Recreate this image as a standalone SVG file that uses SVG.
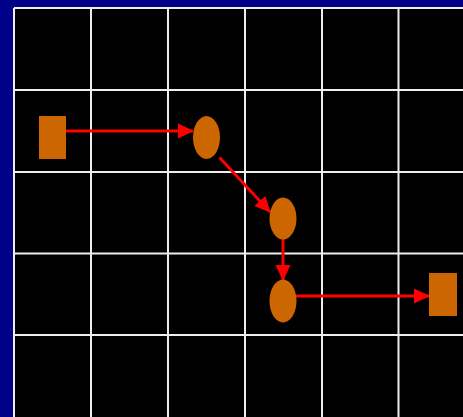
<svg xmlns="http://www.w3.org/2000/svg" width="463" height="417" viewBox="0 0 463 417">
<style>
.grid{stroke:#EEEEEE;stroke-width:2;fill:none}
.node{fill:#CC6600}
.conn{stroke:#FF0000;stroke-width:3;fill:none;marker-end:url(#ah)}
</style>
<defs>
<marker id="ah" markerUnits="userSpaceOnUse" markerWidth="16" markerHeight="16" refX="15" refY="7.5" orient="auto" viewBox="0 0 16 15">
<path d="M0,0 L16,7.5 L0,15 z" fill="#FF0000"/>
</marker>
</defs>
<rect x="0" y="0" width="463" height="417" fill="#000088"/>
<rect x="14" y="8" width="449" height="409" fill="#000000"/>
<g id="grid" class="grid">
<path d="M14,8 V417 M91,8 V417 M168,8 V417 M245,8 V417 M322,8 V417 M398.5,8 V417"/>
<path d="M14,8 H463 M14,90 H463 M14,172 H463 M14,253.5 H463 M14,335 H463"/>
</g>
<g id="connectors">
<line class="conn" x1="66" y1="131" x2="193" y2="131"/>
<line class="conn" x1="219.5" y1="157.5" x2="270" y2="212"/>
<line class="conn" x1="283" y1="239" x2="283" y2="280"/>
<line class="conn" x1="294" y1="296" x2="429" y2="296"/>
</g>
<g id="start"><rect class="node" x="39" y="116" width="27" height="43"/></g>
<g id="n1"><ellipse class="node" cx="206.5" cy="137.5" rx="13.5" ry="21.5"/></g>
<g id="n2"><ellipse class="node" cx="283" cy="218.5" rx="13.5" ry="21"/></g>
<g id="n3"><ellipse class="node" cx="283" cy="301" rx="13.5" ry="21.5"/></g>
<g id="end"><rect class="node" x="429" y="273" width="28" height="43"/></g>
</svg>
